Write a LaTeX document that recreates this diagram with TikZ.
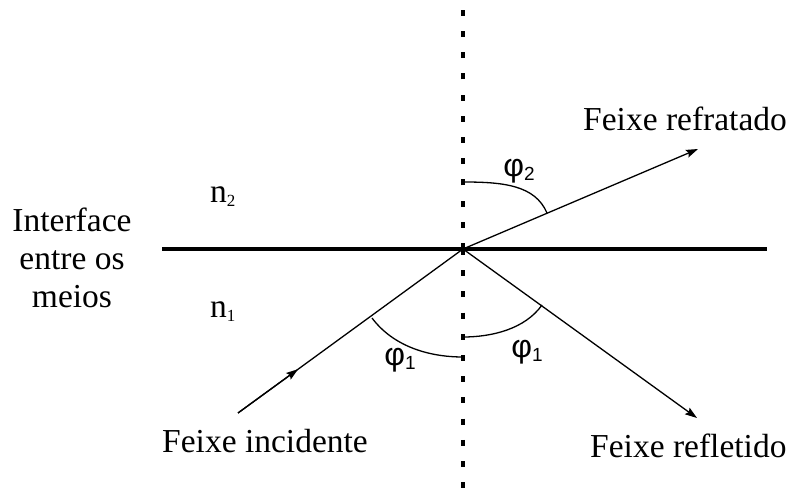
\documentclass[tikz,border=0pt]{standalone}
\usepackage{fontspec}
\setmainfont{Liberation Serif}
\newfontfamily\phifont{Liberation Sans}
\usetikzlibrary{arrows.meta,calc}

\newcommand{\angsym}[1]{{\phifont φ\raisebox{-4bp}{\fontsize{19bp}{19bp}\selectfont #1}}}
\newcommand{\idx}[1]{n\raisebox{-4bp}{\fontsize{17bp}{17bp}\selectfont #1}}

\begin{document}
\begin{tikzpicture}[
  x=1bp, y=-1bp,
  font=\fontsize{33.5bp}{38bp}\selectfont,
  txt/.style={inner sep=0pt},
  angtxt/.style={inner sep=0pt, font=\fontsize{32bp}{34bp}\selectfont},
  ray/.style={line width=1.3bp},
  tip/.style={-{Stealth[length=12bp,width=8bp,inset=2bp]}}
]
\useasboundingbox (0,0) rectangle (792,489);
% points
\coordinate (O) at (463,249);
\coordinate (top) at (463,0);
\coordinate (bot) at (463,489);
\coordinate (left) at (162,249);
\coordinate (right) at (767,249);
\coordinate (inc) at (238,413);
\coordinate (refr) at (698,149);
\coordinate (refl) at (697,418);
% interface and normal
\draw[line width=4bp] (left) -- (right);
\draw[line width=3.8bp, dash pattern=on 6bp off 15.2bp] (O) -- (top);
\draw[line width=3.8bp, dash pattern=on 6bp off 15.2bp] (O) -- (bot);
% rays
\draw[ray] (inc) -- (O);
\draw[ray,tip] (inc) -- ($(inc)!0.267!(O)$);
\draw[ray,tip] (O) -- (refr);
\draw[ray,tip] (O) -- (refl);
% angles
\draw[ray] (372,318) .. controls (393,346) and (428,357) .. (463,357);
\draw[ray] (463,337) .. controls (492,337) and (525,329) .. (542,305);
\draw[ray] (463,182) .. controls (503,182) and (535,185) .. (547,213);
\node[angtxt] (phiinc) at (400,360) {\angsym{1}};
\node[angtxt] (phirefl) at (527,352) {\angsym{1}};
\node[angtxt] (phirefr) at (519,171) {\angsym{2}};
% labels
\node[txt, align=center] (iface) at (72,258) {Interface\\entre os\\meios};
\node[txt, anchor=base west] (med2) at (210,203) {\idx{2}};
\node[txt, anchor=base west] (med1) at (210,317) {\idx{1}};
\node[txt, anchor=base west] (lblrefr) at (583,131) {Feixe refratado};
\node[txt, anchor=base west] (lblinc) at (162,452) {Feixe incidente};
\node[txt, anchor=base west] (lblrefl) at (590,457) {Feixe refletido};
\end{tikzpicture}
\end{document}
